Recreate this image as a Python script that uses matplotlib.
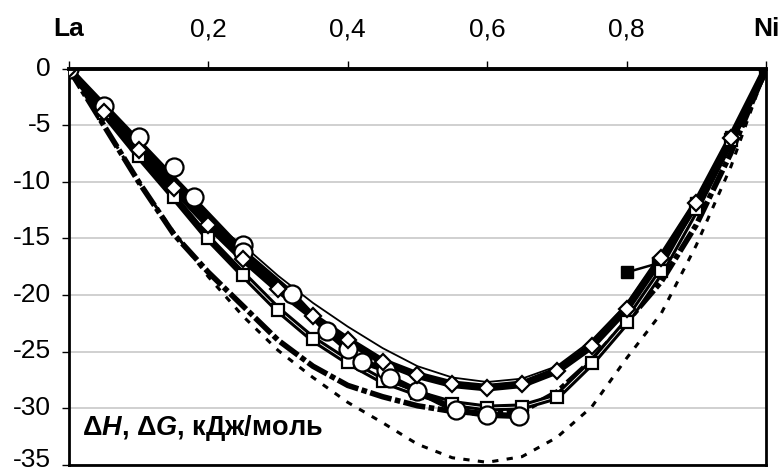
import matplotlib
matplotlib.use("Agg")
import matplotlib.pyplot as plt
import matplotlib.transforms as mtransforms

plt.rcParams["font.family"] = ["Liberation Sans", "DejaVu Sans"]
plt.rcParams["mathtext.fontset"] = "custom"
plt.rcParams["mathtext.rm"] = "Liberation Sans:bold"
plt.rcParams["mathtext.it"] = "Liberation Sans:italic:bold"
plt.rcParams["mathtext.bf"] = "Liberation Sans:bold"
plt.rcParams["lines.scale_dashes"] = False

# composition grid (mole fraction Ni)
x_grid = [0.0, 0.05, 0.10, 0.15, 0.20, 0.25, 0.30, 0.35, 0.40, 0.45, 0.50,
          0.55, 0.60, 0.65, 0.70, 0.75, 0.80, 0.85, 0.90, 0.95, 1.0]

# open diamonds
y_diamond = [0, -3.8, -7.2, -10.5, -13.8, -16.8, -19.5, -21.9, -24.0, -25.9, -27.1,
             -27.9, -28.2, -27.9, -26.7, -24.5, -21.2, -16.7, -11.9, -6.1, 0]
# open squares
y_square = [0, -3.9, -7.7, -11.3, -15.0, -18.2, -21.3, -23.9, -25.9, -27.6, -28.7,
            -29.6, -30.0, -29.9, -29.0, -26.0, -22.4, -17.9, -12.4, -6.3, 0]
# thin solid line
y_thin = [0, -3.4, -6.8, -10.1, -13.4, -15.6, -18.3, -20.7, -22.8, -24.7, -26.3,
          -27.3, -27.7, -27.4, -26.3, -24.0, -20.8, -16.4, -11.5, -5.8, 0]
# thick dash-dot line
y_dashdot = [0, -5.0, -10.0, -14.6, -18.0, -21.0, -24.0, -26.3, -28.0, -29.0, -29.8,
             -30.3, -30.5, -30.3, -28.6, -25.8, -22.4, -18.8, -13.8, -7.4, 0]
# dotted line
y_dotted = [0, -5.0, -10.0, -14.4, -18.4, -21.9, -24.9, -27.3, -29.5, -31.3, -33.2,
            -34.4, -34.8, -34.3, -32.6, -29.9, -25.6, -21.6, -15.6, -8.6, 0]

# experimental points (open circles), scattered ones
x_circ = [0.05, 0.10, 0.15, 0.18, 0.25]
y_circ = [-3.3, -6.0, -8.7, -11.3, -15.6]
# open circles joined by a line
x_circ_line = [0.0, 0.25, 0.32, 0.37, 0.40, 0.42, 0.455, 0.46, 0.50, 0.555, 0.60, 0.645]
y_circ_line = [0, -16.2, -19.9, -23.2, -24.8, -25.9, -26.6, -27.3, -28.5, -30.2, -30.6, -30.7]

# filled squares
x_fsq = [0.80, 0.845, 0.90, 0.95, 1.0]
y_fsq = [-18.0, -17.2, -11.9, -6.0, 0]

xtick_vals = [0, 0.2, 0.4, 0.6, 0.8, 1.0]
xtick_labels = ["La", "0,2", "0,4", "0,6", "0,8", "Ni"]
ytick_vals = [0, -5, -10, -15, -20, -25, -30, -35]

fig = plt.figure(figsize=(7.84, 4.75), dpi=100)
ax = fig.add_axes([0.088, 0.022, 0.889, 0.833])

ax.plot(x_grid, y_dotted, color="black", lw=2.2, dashes=(4.5, 6), zorder=2)
ax.plot(x_grid, y_dashdot, color="black", lw=4.0, dashes=(16, 2.5, 4, 2.5), zorder=3)
ax.plot(x_grid, y_thin, color="black", lw=1.3, zorder=3)
ax.plot(x_grid, y_square, color="black", lw=5.0, zorder=4)
ax.plot(x_grid[5:19], y_square[5:19], color="white", lw=0.6, zorder=4)
ax.plot(x_grid, y_diamond, color="black", lw=5.5, zorder=4)
ax.plot(x_circ_line, y_circ_line, color="black", lw=4.5, zorder=4)
ax.plot(x_fsq, y_fsq, color="black", lw=1.8, marker="s", ms=8, zorder=5)

ax.plot(x_grid, y_square, ls="none", marker="s", ms=8.5, mfc="white", mec="black",
        mew=1.6, zorder=6)
ax.plot(x_circ, y_circ, ls="none", marker="o", ms=13, mfc="white", mec="black",
        mew=1.6, zorder=6)
ax.plot(x_circ_line, y_circ_line, ls="none", marker="o", ms=13, mfc="white",
        mec="black", mew=1.6, zorder=6)
ax.plot(x_grid, y_diamond, ls="none", marker="D", ms=8.5, mfc="white", mec="black",
        mew=1.6, zorder=7)
ax.plot([x_fsq[-1]], [y_fsq[-1]], ls="none", marker="s", ms=9, color="black", zorder=8)

ax.set_xlim(0, 1)
ax.set_ylim(-35, 0)
ax.xaxis.tick_top()
ax.set_xticks(xtick_vals)
ax.set_xticklabels(xtick_labels)
for lab in ax.get_xticklabels():
    if lab.get_text() in ("La", "Ni"):
        lab.set_fontweight("bold")
ax.set_yticks(ytick_vals)
ax.set_yticklabels([str(v) for v in ytick_vals])
ax.tick_params(axis="x", direction="out", length=6, width=1, pad=14, labelsize=19)
ax.tick_params(axis="y", direction="out", length=5, width=1, pad=8, labelsize=19)
for lab in ax.get_yticklabels():
    lab.set_verticalalignment("center")
# lift the bottom label a few pixels so it stays inside the image
last = ax.get_yticklabels()[-1]
last.set_transform(last.get_transform() +
                   mtransforms.ScaledTranslation(0, 5 / 100, fig.dpi_scale_trans))
ax.yaxis.grid(True, color="#c8c8c8", lw=1.2)
ax.set_axisbelow(True)
for side in ("left", "right", "bottom"):
    ax.spines[side].set_linewidth(2.0)
ax.spines["top"].set_linewidth(2.8)
ax.spines["top"].set_zorder(9)

ax.text(0.018, -31.8, r"$\Delta \mathit{H}$, $\Delta \mathit{G}$, кДж/моль",
        fontsize=19.5, fontweight="bold", ha="left", va="center")

fig.savefig("out.png", dpi=100)
